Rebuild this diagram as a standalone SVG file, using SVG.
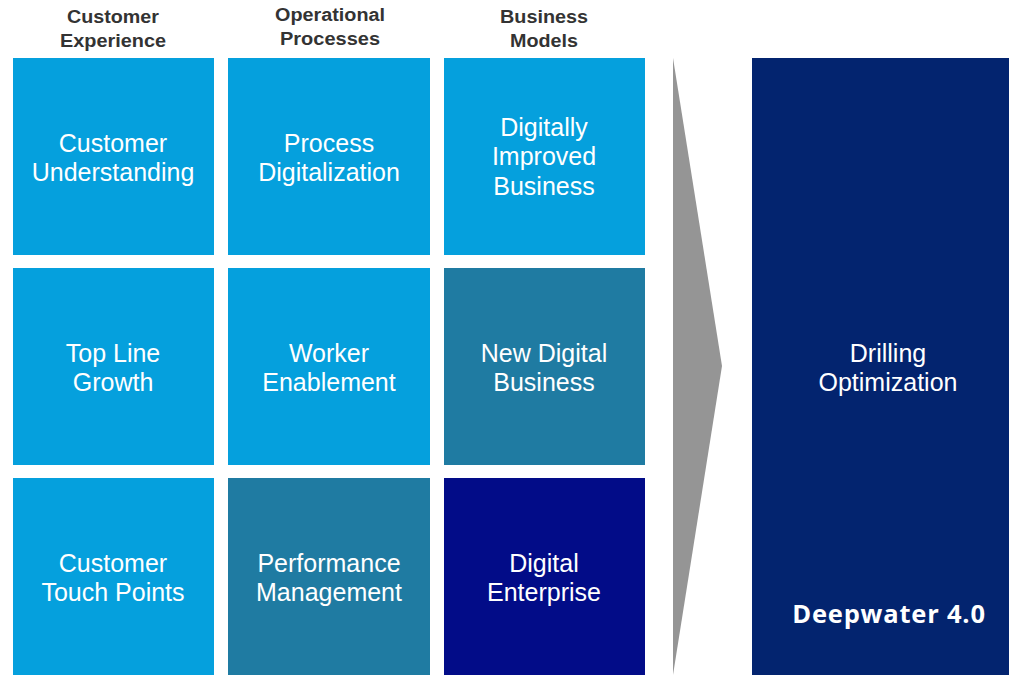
<svg xmlns="http://www.w3.org/2000/svg" width="1009" height="675" viewBox="0 0 1009 675">
  <style>
    .hdr { font-family: "Liberation Sans", Arial, sans-serif; font-weight: bold; font-size: 18px; fill: #333333; text-anchor: middle; }
    .lbl { font-family: "Liberation Sans", Arial, sans-serif; font-size: 25px; fill: #ffffff; text-anchor: middle; }
    .light { fill: #05a0dd; }
    .teal { fill: #1f7ba2; }
    .navy { fill: #020c88; }
    .deep { fill: #03246f; }
    .tag { font-family: "Open Sans", "Liberation Sans", sans-serif; font-weight: bold; font-size: 25.5px; letter-spacing: 0.8px; fill: #ffffff; text-anchor: middle; }
  </style>
  <rect width="1009" height="675" fill="#ffffff"/>

  <!-- column headings -->
  <g id="headers">
    <text class="hdr" x="113" y="23" textLength="92" lengthAdjust="spacingAndGlyphs">Customer</text>
    <text class="hdr" x="113" y="47" textLength="106" lengthAdjust="spacingAndGlyphs">Experience</text>
    <text class="hdr" x="330" y="21" textLength="110" lengthAdjust="spacingAndGlyphs">Operational</text>
    <text class="hdr" x="330" y="45" textLength="100" lengthAdjust="spacingAndGlyphs">Processes</text>
    <text class="hdr" x="544" y="23" textLength="88" lengthAdjust="spacingAndGlyphs">Business</text>
    <text class="hdr" x="544" y="47" textLength="68" lengthAdjust="spacingAndGlyphs">Models</text>
  </g>

  <!-- column 1: customer experience -->
  <g id="customer-understanding">
    <rect class="light" x="13" y="58" width="201" height="197"/>
    <text class="lbl" x="113" y="152">Customer</text>
    <text class="lbl" x="113" y="181">Understanding</text>
  </g>
  <g id="top-line-growth">
    <rect class="light" x="13" y="268" width="201" height="197"/>
    <text class="lbl" x="113" y="362">Top Line</text>
    <text class="lbl" x="113" y="391">Growth</text>
  </g>
  <g id="customer-touch-points">
    <rect class="light" x="13" y="478" width="201" height="197"/>
    <text class="lbl" x="113" y="572">Customer</text>
    <text class="lbl" x="113" y="601">Touch Points</text>
  </g>

  <!-- column 2: operational processes -->
  <g id="process-digitalization">
    <rect class="light" x="228" y="58" width="202" height="197"/>
    <text class="lbl" x="329" y="152">Process</text>
    <text class="lbl" x="329" y="181">Digitalization</text>
  </g>
  <g id="worker-enablement">
    <rect class="light" x="228" y="268" width="202" height="197"/>
    <text class="lbl" x="329" y="362">Worker</text>
    <text class="lbl" x="329" y="391">Enablement</text>
  </g>
  <g id="performance-management">
    <rect class="teal" x="228" y="478" width="202" height="197"/>
    <text class="lbl" x="329" y="572">Performance</text>
    <text class="lbl" x="329" y="601">Management</text>
  </g>

  <!-- column 3: business models -->
  <g id="digitally-improved-business">
    <rect class="light" x="444" y="58" width="201" height="197"/>
    <text class="lbl" x="544" y="136">Digitally</text>
    <text class="lbl" x="544" y="165">Improved</text>
    <text class="lbl" x="544" y="195">Business</text>
  </g>
  <g id="new-digital-business">
    <rect class="teal" x="444" y="268" width="201" height="197"/>
    <text class="lbl" x="544" y="362">New Digital</text>
    <text class="lbl" x="544" y="391">Business</text>
  </g>
  <g id="digital-enterprise">
    <rect class="navy" x="444" y="478" width="201" height="197"/>
    <text class="lbl" x="544" y="572">Digital</text>
    <text class="lbl" x="544" y="601">Enterprise</text>
  </g>

  <!-- chevron pointing to the outcome -->
  <g id="connectors">
    <polygon points="673,58 722,366 673,675" fill="#959595"/>
  </g>

  <!-- outcome -->
  <g id="drilling-optimization">
    <rect class="deep" x="752" y="58" width="257" height="617"/>
    <text class="lbl" x="888" y="362">Drilling</text>
    <text class="lbl" x="888" y="391">Optimization</text>
    <text class="tag" x="889" y="623">Deepwater 4.0</text>
  </g>
</svg>
